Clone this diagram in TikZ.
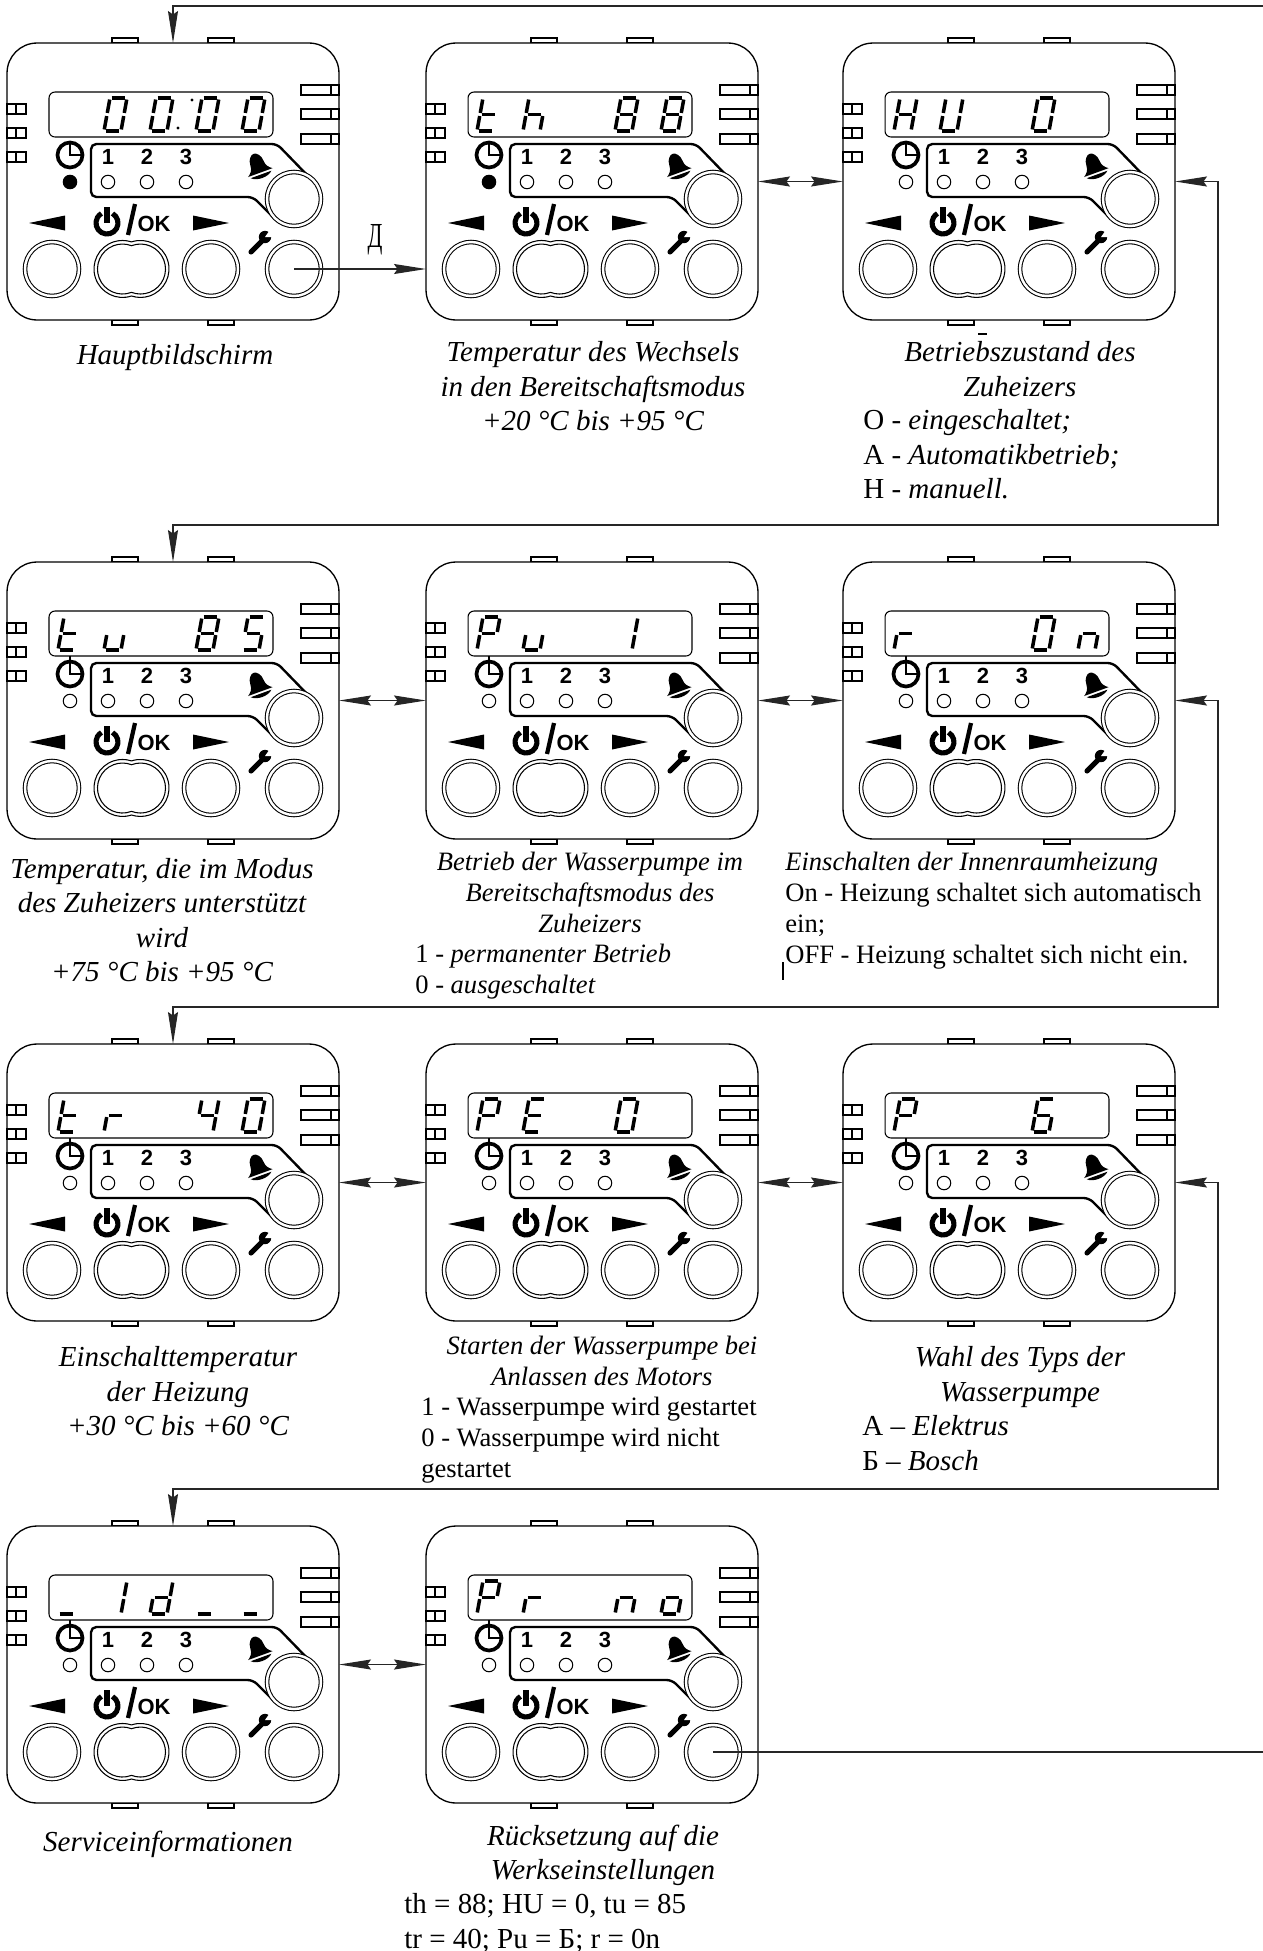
\documentclass[tikz,border=0pt]{standalone}
\usepackage{fontspec}
\usepackage{graphicx}
\setmainfont{Liberation Serif}
\setsansfont{Liberation Sans}
\usetikzlibrary{arrows.meta,positioning}

\tikzset{
  tab/.style={draw,line width=.6pt,fill=white},
  body/.style={draw,line width=.75pt,fill=white,rounded corners=.6cm,inner sep=0,outer sep=0,
    minimum width=6.64cm,minimum height=5.54cm},
  lcd/.style={draw,line width=.6pt,rounded corners=.12cm,inner sep=0,
    minimum width=4.48cm,minimum height=.9cm},
  knob/.style={circle,draw,line width=.6pt,double,double distance=1.4pt,fill=white,inner sep=0,
    minimum size=1.08cm},
  oval/.style={line width=.6pt},
  led/.style={circle,draw,line width=.6pt,inner sep=0,minimum size=.27cm},
  ledoff/.style={led,fill=white},
  ledon/.style={led,fill=black},
  num/.style={inner sep=0,font=\fontsize{12.5}{13}\selectfont\sffamily\bfseries},
  zone/.style={line width=1.35pt,rounded corners=3pt},
  segm/.style={line width=2pt,shorten >=.9pt,shorten <=.9pt},
  seg a/.style={insert path={(6,0)--(23,0)}},
  seg b/.style={insert path={(23,0)--(20,16.5)}},
  seg c/.style={insert path={(20,16.5)--(17,33)}},
  seg d/.style={insert path={(0,33)--(17,33)}},
  seg e/.style={insert path={(3,16.5)--(0,33)}},
  seg f/.style={insert path={(6,0)--(3,16.5)}},
  seg g/.style={insert path={(3,16.5)--(20,16.5)}},
  capt/.style={inner sep=0,align=center,yshift=-2.4pt,font=\fontsize{16.5}{19.6}\selectfont\itshape,
    execute at begin node=\strut,execute at end node=\strut},
  capts/.style={capt,yshift=.6pt,font=\fontsize{15.1}{17.6}\selectfont\itshape},
  list/.style={inner sep=0,align=left,anchor=west,yshift=-2.4pt,font=\fontsize{16.5}{19.6}\selectfont,
    execute at begin node=\strut,execute at end node=\strut},
  lists/.style={list,yshift=.6pt,font=\fontsize{15.1}{17.6}\selectfont},
  flow/.style={line width=.7pt,black!85}
}

\newcommand{\lcdchar}[2]{%
  \begin{scope}[shift={({51+46*(#1-1)},55)}]
    \foreach \s in #2 {\draw[segm,seg \s];}
  \end{scope}}
\newcommand{\lcdzero}{a,b,c,d,e,f}
\newcommand{\lcdfour}{b,c,f,g}
\newcommand{\lcdfive}{a,c,d,f,g}
\newcommand{\lcdsix}{a,c,d,e,f,g}
\newcommand{\lcdeight}{a,b,c,d,e,f,g}
\newcommand{\lcdone}{b,c}
\newcommand{\lcdt}{d,e,f,g}
\newcommand{\lcdh}{c,e,f,g}
\newcommand{\lcdH}{b,c,e,f,g}
\newcommand{\lcdU}{b,c,d,e,f}
\newcommand{\lcdu}{c,d,e}
\newcommand{\lcdP}{a,b,e,f,g}
\newcommand{\lcdE}{a,d,e,f,g}
\newcommand{\lcdr}{e,g}
\newcommand{\lcdn}{c,e,g}
\newcommand{\lcdo}{c,d,e,g}
\newcommand{\lcdd}{b,c,d,e,g}
\newcommand{\lcdbar}{d}

% #1 name, #2 left, #3 top, #4 state led, #5 what the display shows
\newcommand{\panel}[5]{%
  \begin{scope}[shift={(#2,#3)}]
    \foreach \x in {105,201} {
      \draw[tab] (\x,-5) rectangle ++(26,5);
      \draw[tab] (\x,277) rectangle ++(26,5);
    }
    \node[body] (#1) at (166,138.5) {};
    \foreach \y in {61,85,109} {
      \draw[tab] (0,\y) rectangle ++(19,10);
      \draw[line width=.6pt] (9,\y) -- ++(0,10);
    }
    \foreach \y in {42,66,91} {
      \draw[tab] (294,\y) rectangle ++(38,10);
      \draw[line width=.6pt] (324,\y) -- ++(0,10);
    }
    \node[lcd] (#1-lcd) at (154,71.5) {};
    #5
    % clock and state led
    \node[circle,draw,line width=2.1pt,inner sep=0,minimum size=.5cm] (#1-clock) at (63,112) {};
    \draw[line width=1.5pt] (#1-clock.north) -- (#1-clock.center) -- (#1-clock.east);
    \node[#4] (#1-state) at (63,139) {};
    % timer zone
    \draw[zone] (303,135) -- (270,101) -- (84,101) -- (84,154) -- (246,154) -- (268,176);
    \foreach \n/\x in {1/101,2/140,3/179} {
      \node[num] (#1-num\n) at (\x,114) {\n};
      \node[ledoff] (#1-led\n) at (\x,139) {};
    }
    % bell
    \begin{scope}[shift={(251,123)},rotate=20]
      \fill (0,-13) .. controls (3,-13) and (7,-9) .. (7,-3) .. controls (7,2) and (10,5) .. (13,7)
        -- (-13,7) .. controls (-10,5) and (-7,2) .. (-7,-3) .. controls (-7,-9) and (-3,-13) .. (0,-13) -- cycle;
      \fill (-11,9) -- (11,9) .. controls (6,14) and (-6,14) .. (-11,9) -- cycle;
    \end{scope}
    \node[knob] (#1-up) at (287,156) {};
    % arrows, power, ok
    \fill (22,180) -- (58,172.5) -- (58,187.5) -- cycle;
    \fill (222,180) -- (186,172.5) -- (186,187.5) -- cycle;
    \draw[line width=2.9pt] (100,180) ++(-60:11) arc[start angle=-60,end angle=240,radius=11];
    \draw[line width=2.9pt] (100,164) -- (100,180);
    \draw[line width=2.4pt] (128,161) -- (121,192);
    \node[inner sep=0,font=\fontsize{12.5}{13}\selectfont\sffamily\bfseries] (#1-ok) at (147,180.5) {OK};
    % wrench
    \begin{scope}[shift={(253,199)}]
      \draw[line width=2.9pt,line cap=round] (-9,10) -- (3,-2);
      \fill (5,-5) circle (6.2);
      \fill[white] (5,-5) -- (15,-5) -- (12,-15) -- cycle;
    \end{scope}
    % keys
    \node[knob] (#1-left) at (45,226) {};
    \node[knob] (#1-right) at (204,226) {};
    \node[knob] (#1-key) at (287,226) {};
    \draw[oval] (124.5,198.9) arc[start angle=-108.4,end angle=108.4,radius=28.5]
      arc[start angle=71.6,end angle=288.4,radius=28.5] -- cycle;
    \draw[oval] (124.5,202.7) arc[start angle=-111.1,end angle=111.1,radius=25]
      arc[start angle=68.9,end angle=291.1,radius=25] -- cycle;
  \end{scope}}

\begin{document}
\begin{tikzpicture}[x=.02cm,y=-.02cm,>={Stealth[length=.64cm,width=.2cm,inset=.07cm]}]
  \useasboundingbox (0,0) rectangle (1263,1951);

  \panel{home}{7}{43}{ledon}{\lcdchar{2}{\lcdzero}\lcdchar{3}{\lcdzero}\lcdchar{4}{\lcdzero}\lcdchar{5}{\lcdzero}
    \fill (171,85) circle (1.7); \fill (185,57) circle (1.7);}
  \panel{th}{426}{43}{ledon}{\lcdchar{1}{\lcdt}\lcdchar{2}{\lcdh}\lcdchar{4}{\lcdeight}\lcdchar{5}{\lcdeight}}
  \panel{hu}{843}{43}{ledoff}{\lcdchar{1}{\lcdH}\lcdchar{2}{\lcdU}\lcdchar{4}{\lcdzero}}

  \panel{tu}{7}{562}{ledoff}{\lcdchar{1}{\lcdt}\lcdchar{2}{\lcdu}\lcdchar{4}{\lcdeight}\lcdchar{5}{\lcdfive}}
  \panel{pu}{426}{562}{ledoff}{\lcdchar{1}{\lcdP}\lcdchar{2}{\lcdu}\lcdchar{4}{\lcdone}}
  \panel{rr}{843}{562}{ledoff}{\lcdchar{1}{\lcdr}\lcdchar{4}{\lcdzero}\lcdchar{5}{\lcdn}}

  \panel{tr}{7}{1044}{ledoff}{\lcdchar{1}{\lcdt}\lcdchar{2}{\lcdr}\lcdchar{4}{\lcdfour}\lcdchar{5}{\lcdzero}}
  \panel{pe}{426}{1044}{ledoff}{\lcdchar{1}{\lcdP}\lcdchar{2}{\lcdE}\lcdchar{4}{\lcdzero}}
  \panel{pp}{843}{1044}{ledoff}{\lcdchar{1}{\lcdP}\lcdchar{4}{\lcdsix}}

  \panel{id}{7}{1526}{ledoff}{\lcdchar{1}{\lcdbar}\lcdchar{2}{\lcdone}\lcdchar{3}{\lcdd}\lcdchar{4}{\lcdbar}\lcdchar{5}{\lcdbar}}
  \panel{pr}{426}{1526}{ledoff}{\lcdchar{1}{\lcdP}\lcdchar{2}{\lcdr}\lcdchar{4}{\lcdn}\lcdchar{5}{\lcdo}}

  % the clock hand sticks out on these
  \foreach \n in {tu,pu,rr,tr,pe,pp,id,pr} {
    \draw[line width=1.2pt] (\n-clock.north) -- ++(0,-4);
  }

  % loose ends of the way back and the turns between rows
  \coordinate (back-in) at (1263,6);
  \coordinate (back-out) at (1263,1752);
  \coordinate (hu-turn) at (1218,525);
  \coordinate (rr-turn) at (1218,1007);
  \coordinate (pp-turn) at (1218,1489);

  \draw[flow,->] (back-in) -| (home.north);
  \draw[flow] (pr-key.center) -- (back-out);
  \draw[flow,->] (home-key.center) -- (home-key.center -| th.west);
  \node[inner sep=0,font=\fontsize{20}{22}\selectfont] (press) at (375,240) {\scalebox{.62}[1]{Д}};

  \draw[flow,<->] (th.east) -- (hu.west);
  \draw[flow,<->] (tu.east) -- (pu.west);
  \draw[flow,<->] (pu.east) -- (rr.west);
  \draw[flow,<->] (tr.east) -- (pe.west);
  \draw[flow,<->] (pe.east) -- (pp.west);
  \draw[flow,<->] (id.east) -- (pr.west);

  \draw[flow,<->] (hu.east) -| (hu-turn) -| (tu.north);
  \draw[flow,<->] (rr.east) -| (rr-turn) -| (tr.north);
  \draw[flow,<->] (pp.east) -| (pp-turn) -| (id.north);

  % captions
  \node[capt] (home-text) at (175,353) {Hauptbildschirm};
  \node[capt] (th-text) at (593,387) {Temperatur des Wechsels\\in den Bereitschaftsmodus\\+20 °C bis +95 °C};
  \node[capt] (hu-text) at (1020,370) {Betriebszustand des\\Zuheizers};
  \node[list] (hu-list) at (863,455) {O - \textit{eingeschaltet;}\\A - \textit{Automatikbetrieb;}\\H - \textit{manuell.}};
  \draw[line width=.6pt] (978,334) -- (987,334);

  \node[capt] (tu-text) at (162,921) {Temperatur, die im Modus\\des Zuheizers unterstützt\\wird\\+75 °C bis +95 °C};
  \node[capts] (pu-text) at (590,894) {Betrieb der Wasserpumpe im\\Bereitschaftsmodus des\\Zuheizers};
  \node[lists] (pu-list) at (415,970) {1 - \textit{permanenter Betrieb}\\0 - \textit{ausgeschaltet}};
  \node[lists] (rr-text) at (785,909) {\textit{Einschalten der Innenraumheizung}\\On - Heizung schaltet sich automatisch\\ein;\\OFF - Heizung schaltet sich nicht ein.};
  \draw[line width=.6pt] (783,962) -- (783,980);

  \node[capt] (tr-text) at (178,1392) {Einschalttemperatur\\der Heizung\\+30 °C bis +60 °C};
  \node[capts] (pe-text) at (602,1362) {Starten der Wasserpumpe bei\\Anlassen des Motors};
  \node[lists] (pe-list) at (421,1439) {1 - Wasserpumpe wird gestartet\\0 - Wasserpumpe wird nicht\\gestartet};
  \node[capt] (pp-text) at (1020,1375) {Wahl des Typs der\\Wasserpumpe};
  \node[list] (pp-list) at (862,1444) {A -- \textit{Elektrus}\\Б -- \textit{Bosch}};

  \node[capt] (id-text) at (168,1840) {Serviceinformationen};
  \node[capt] (pr-text) at (603,1853) {Rücksetzung auf die\\Werkseinstellungen};
  \node[list] (pr-list) at (404,1922) {th = 88; HU = 0, tu = 85\\tr = 40; Pu = Б; r = 0n};
\end{tikzpicture}
\end{document}
